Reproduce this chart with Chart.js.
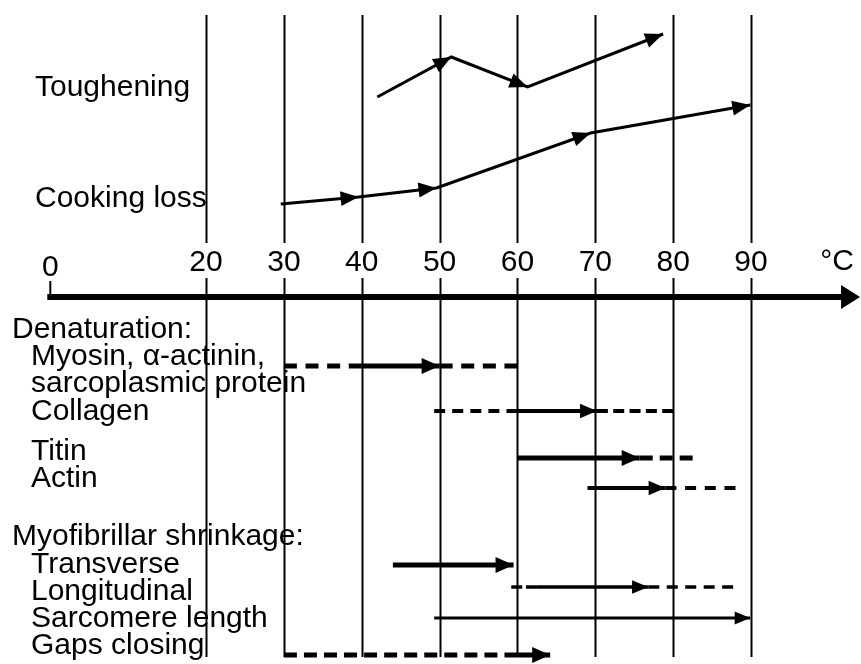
<!DOCTYPE html>
<html>
<head>
<meta charset="utf-8">
<script src="https://cdn.jsdelivr.net/npm/chart.js@4.4.1/dist/chart.umd.min.js"></script>
<style>
  html, body { margin: 0; padding: 0; background: #fff; }
  #wrap { width: 861px; height: 664px; }
</style>
</head>
<body>
<div id="wrap"><canvas id="chart" width="861" height="664"></canvas></div>
<script>
// temperature axis
const tickTemps = [0, 20, 30, 40, 50, 60, 70, 80, 90];
const gridTemps = [20, 30, 40, 50, 60, 70, 80, 90];

// upper curves: temperature and level (0 = top)
const toughTemps = [42, 51.5, 61.3, 78.7];
const toughLevels = [97, 57, 87, 34];
const lossTemps = [29.6, 39.6, 49.6, 69.4, 89.9];
const lossLevels = [204, 197, 188, 133, 105];

// lower ranges: dashed start, solid start, arrow, dashed end (°C)
const rowNames  = ['Myosin', 'Collagen', 'Titin', 'Actin', 'Transverse', 'Longitudinal', 'Sarcomere length', 'Gaps closing'];
const rowLevels = [366, 411, 458, 488, 565, 587, 618, 655];
const dashFrom  = [30, 49.3, 60, 69, 44, 59.2, 49.3, 30];
const solidFrom = [40, 60, 60, 69, 44, 62.5, 49.3, 60];
const arrowAt   = [50, 70.2, 75.7, 79, 59.5, 76.8, 89.9, 64.2];
const dashTo    = [60, 80, 82.5, 88, 59.5, 87.7, 89.9, 64.2];

const FONT = '30px "Liberation Sans", Arial, sans-serif';
const rowWidths = [5, 4, 5, 4, 5, 3.5, 3, 5];
const PX_PER_DEG = 7.786;

function pts(xs, ys) {
    return xs.map(function (x, i) { return { x: x, y: ys[i] }; });
}

// dash pattern that starts and ends on a dash
function dashFor(t0, t1, d) {
    const L = (t1 - t0) * PX_PER_DEG;
    const n = Math.max(2, Math.round((L + 7) / (d + 7)));
    return [d, (L - n * d) / (n - 1)];
}

const datasets = [];
datasets.push({
    label: 'Toughening',
    data: pts(toughTemps, toughLevels),
    borderColor: '#000', borderWidth: 3, pointRadius: 0, showLine: true,
    arrows: [1, 2, 3], head: [18, 7.5]
});
datasets.push({
    label: 'Cooking loss',
    data: pts(lossTemps, lossLevels),
    borderColor: '#000', borderWidth: 3, pointRadius: 0, showLine: true,
    arrows: [1, 2, 3, 4], head: [18, 7.5]
});

rowNames.forEach(function (name, i) {
    const y = rowLevels[i];
    const w = rowWidths[i];
    const head = [12 + w * 1.2, 4 + w * 0.8];
    const d = w >= 5 ? 13 : 11;
    if (dashFrom[i] < solidFrom[i]) {
        datasets.push({
            label: name + ' (start)',
            data: [{ x: dashFrom[i], y: y }, { x: solidFrom[i], y: y }],
            borderColor: '#000', borderWidth: w, borderDash: dashFor(dashFrom[i], solidFrom[i], d),
            pointRadius: 0, showLine: true
        });
    }
    datasets.push({
        label: name,
        data: [{ x: solidFrom[i], y: y }, { x: arrowAt[i], y: y }],
        borderColor: '#000', borderWidth: w,
        pointRadius: 0, showLine: true, arrows: [1], head: head
    });
    if (dashTo[i] > arrowAt[i]) {
        datasets.push({
            label: name + ' (end)',
            data: [{ x: arrowAt[i], y: y }, { x: dashTo[i], y: y }],
            borderColor: '#000', borderWidth: w, borderDash: dashFor(arrowAt[i], dashTo[i], d),
            pointRadius: 0, showLine: true
        });
    }
});

// vertical temperature lines, main axis with arrow, tick labels
const frame = {
    id: 'frame',
    beforeDatasetsDraw: function (chart) {
        const ctx = chart.ctx;
        const xs = chart.scales.x;
        const ys = chart.scales.y;
        ctx.save();
        ctx.strokeStyle = '#000';
        ctx.lineWidth = 2;
        gridTemps.forEach(function (t) {
            const px = Math.round(xs.getPixelForValue(t)) + 0.5;
            ctx.beginPath();
            ctx.moveTo(px, ys.getPixelForValue(15));
            ctx.lineTo(px, ys.getPixelForValue(243));
            ctx.moveTo(px, ys.getPixelForValue(278));
            ctx.lineTo(px, ys.getPixelForValue(657));
            ctx.stroke();
        });
        // zero tick
        const x0 = xs.getPixelForValue(0);
        ctx.beginPath();
        ctx.moveTo(x0, ys.getPixelForValue(281));
        ctx.lineTo(x0, ys.getPixelForValue(297));
        ctx.stroke();
        // axis
        const ay = ys.getPixelForValue(297);
        const tip = xs.getPixelForValue(104);
        ctx.lineWidth = 6;
        ctx.beginPath();
        ctx.moveTo(x0 - 3, ay);
        ctx.lineTo(tip - 15, ay);
        ctx.stroke();
        ctx.fillStyle = '#000';
        ctx.beginPath();
        ctx.moveTo(tip, ay);
        ctx.lineTo(tip - 19, ay - 12);
        ctx.lineTo(tip - 19, ay + 12);
        ctx.closePath();
        ctx.fill();
        ctx.restore();
    },
    afterDatasetsDraw: function (chart) {
        const ctx = chart.ctx;
        ctx.save();
        ctx.fillStyle = '#000';
        chart.data.datasets.forEach(function (ds, di) {
            if (!ds.arrows) return;
            const meta = chart.getDatasetMeta(di);
            ds.arrows.forEach(function (j) {
                const p = meta.data[j], q = meta.data[j - 1];
                const ang = Math.atan2(p.y - q.y, p.x - q.x);
                const L = ds.head[0], H = ds.head[1];
                ctx.save();
                ctx.translate(p.x, p.y);
                ctx.rotate(ang);
                ctx.beginPath();
                ctx.moveTo(0, 0);
                ctx.lineTo(-L, -H);
                ctx.lineTo(-L, H);
                ctx.closePath();
                ctx.fill();
                ctx.restore();
            });
        });
        ctx.restore();
    },
    afterDraw: function (chart) {
        const ctx = chart.ctx;
        const xs = chart.scales.x;
        ctx.save();
        ctx.fillStyle = '#000';
        ctx.font = FONT;
        ctx.textBaseline = 'alphabetic';
        ctx.textAlign = 'center';
        tickTemps.forEach(function (t) {
            ctx.fillText(String(t), xs.getPixelForValue(t), t === 0 ? 276 : 271);
        });
        ctx.textAlign = 'right';
        ctx.fillText('\u00B0C', 854, 270);
        ctx.textAlign = 'left';
        const texts = [
            ['Toughening', 35, 96],
            ['Cooking loss', 35, 207],
            ['Denaturation:', 12, 338],
            ['Myosin, \u03B1-actinin,', 31, 365],
            ['sarcoplasmic protein', 31, 392],
            ['Collagen', 31, 420],
            ['Titin', 31, 460],
            ['Actin', 31, 487],
            ['Myofibrillar shrinkage:', 12, 545],
            ['Transverse', 31, 573],
            ['Longitudinal', 31, 600],
            ['Sarcomere length', 31, 627],
            ['Gaps closing', 31, 654]
        ];
        texts.forEach(function (t) { ctx.fillText(t[0], t[1], t[2]); });
        ctx.restore();
    }
};

const ctx = document.getElementById('chart').getContext('2d');
const chart = new Chart(ctx, {
    type: 'scatter',
    data: { datasets: datasets },
    options: {
        responsive: false,
        animation: false,
        layout: { padding: 0 },
        plugins: { legend: { display: false }, tooltip: { enabled: false } },
        scales: {
            x: { type: 'linear', min: -6.46, max: 104.12, display: false },
            y: { type: 'linear', min: 0, max: 664, reverse: true, display: false }
        }
    },
    plugins: [frame]
});
</script>
</body>
</html>
